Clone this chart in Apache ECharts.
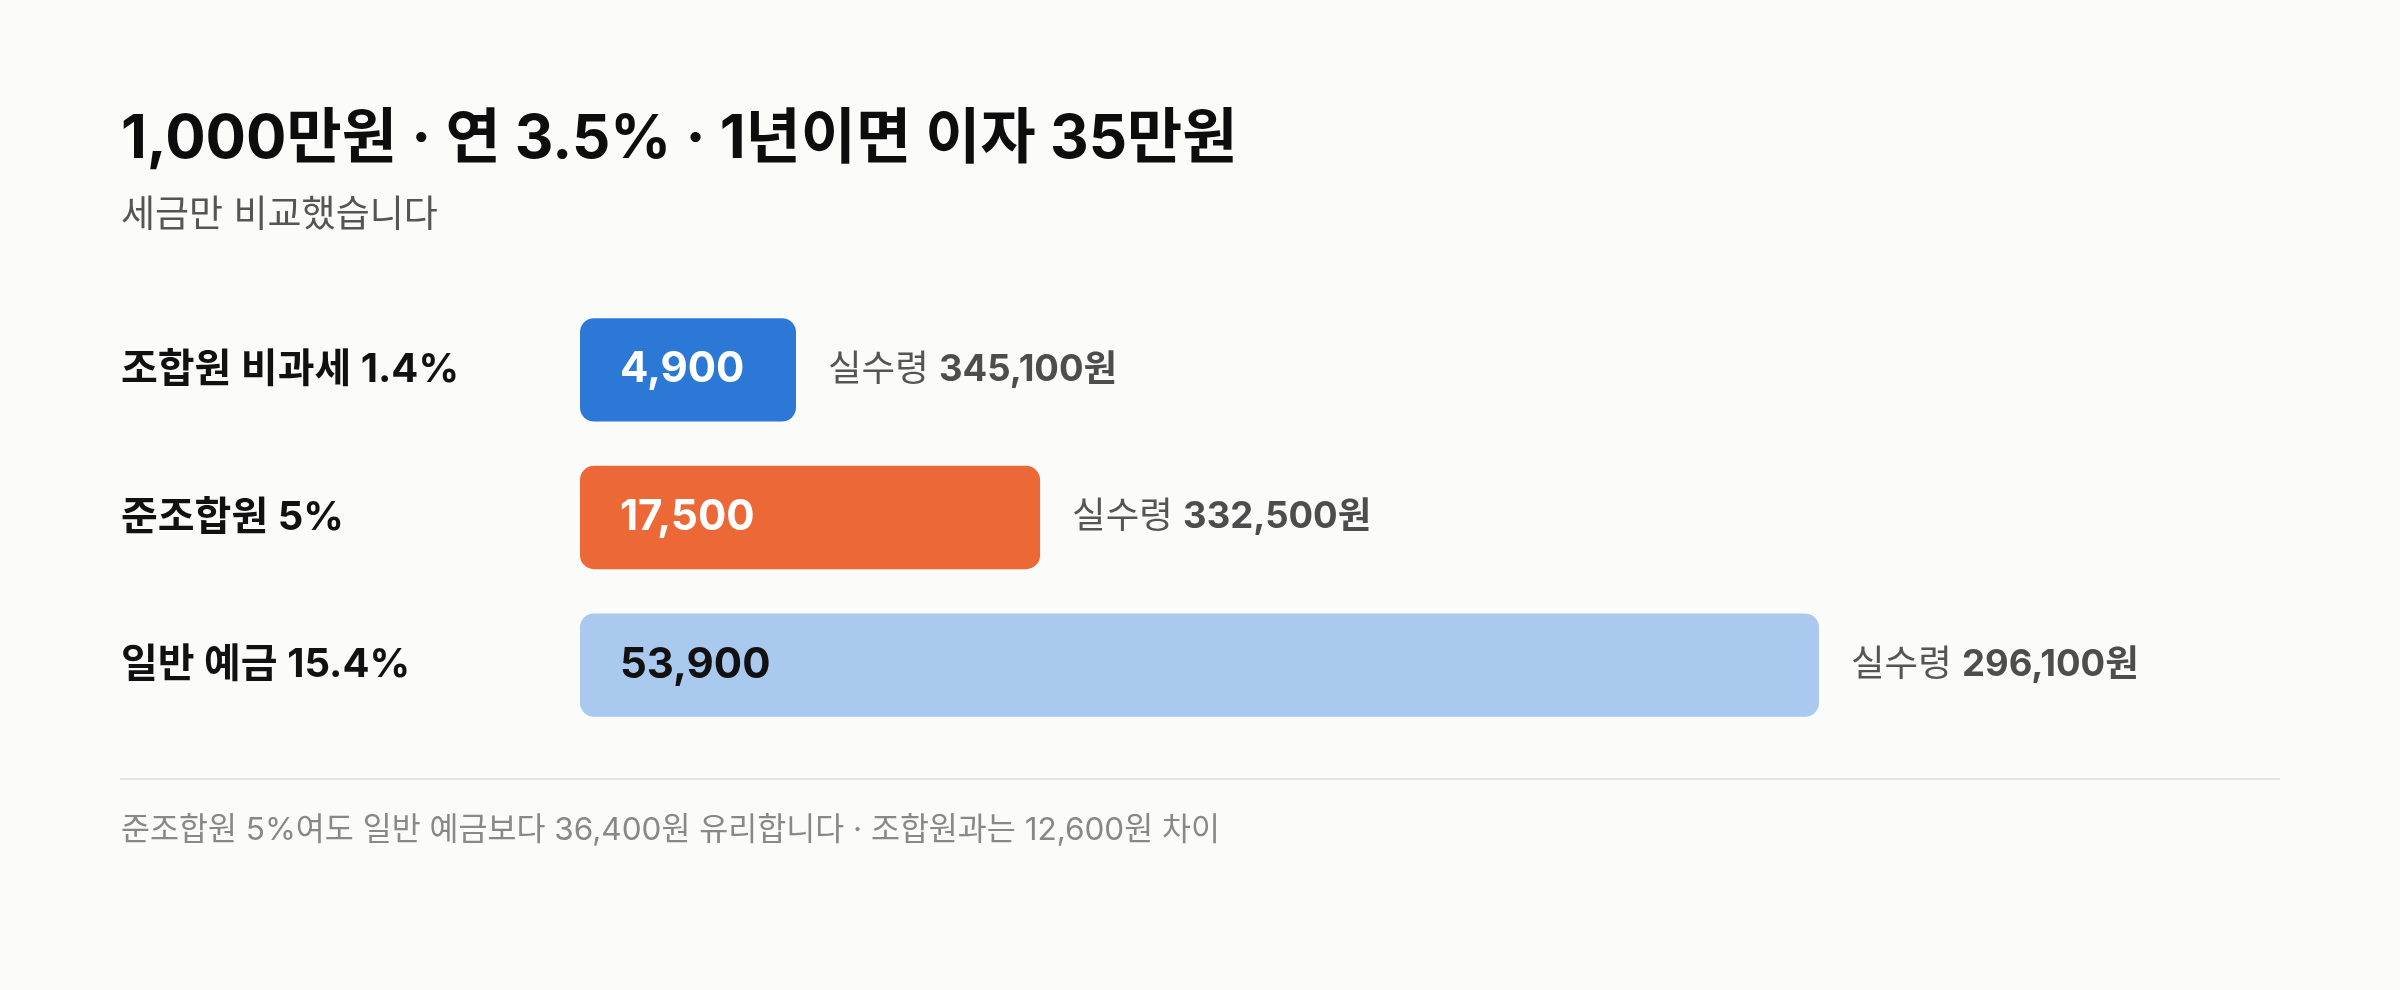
<!DOCTYPE html>
<html>
<head>
<meta charset="utf-8">
<script src="https://cdn.jsdelivr.net/npm/echarts@6/dist/echarts.min.js"></script>
<style>
  html, body { margin: 0; padding: 0; background: #fbfbf9; }
  #chart { width: 2400px; height: 990px; }
</style>
</head>
<body>
<div id="chart"></div>
<script>
// ---- data ----
const titleText = '1,000만원 · 연 3.5% · 1년이면 이자 35만원';
const subtitleText = '세금만 비교했습니다';
const categories = ['조합원 비과세 1.4%', '준조합원 5%', '일반 예금 15.4%'];
const taxValues = [4900, 17500, 53900];
const netValues = [345100, 332500, 296100];
const axisRange = [-4000, 53900];

// ---- style ----
const FONT = 'Inter, "Noto Sans CJK KR", sans-serif';
const barColors = ['#2B78D6', '#EC6836', '#A9C9EE'];
const innerLabelColors = ['#ffffff', '#ffffff', '#111111'];
const MIN_BAR_PX = 216;

const fmt = v => v.toLocaleString('en-US');
const footerText = '준조합원 5%여도 일반 예금보다 ' + fmt(taxValues[2] - taxValues[1]) +
  '원 유리합니다 · 조합원과는 ' + fmt(taxValues[1] - taxValues[0]) + '원 차이';

const chart = echarts.init(document.getElementById('chart'));

chart.setOption({
  backgroundColor: '#fbfbf9',
  animation: false,
  grid: { left: 580, width: 1239, top: 296, height: 443 },
  xAxis: { type: 'value', min: axisRange[0], max: axisRange[1], show: false },
  yAxis: {
    type: 'category',
    data: categories,
    inverse: true,
    axisLine: { show: false },
    axisTick: { show: false },
    splitLine: { show: false },
    axisLabel: {
      align: 'left',
      margin: 459,
      fontFamily: FONT,
      fontSize: 40,
      fontWeight: 'bold',
      color: '#111111'
    }
  },
  graphic: [
    {
      type: 'text', left: 121, top: 110,
      style: { text: titleText, font: 'bold 60px ' + FONT, fill: '#0d0d0d' }
    },
    {
      type: 'text', left: 121, top: 197,
      style: { text: subtitleText, font: '37px ' + FONT, fill: '#555555' }
    },
    {
      type: 'line',
      shape: { x1: 120, y1: 779, x2: 2280, y2: 779 },
      style: { stroke: '#e4e4e2', lineWidth: 2 }
    },
    {
      type: 'text', left: 121, top: 815,
      style: { text: footerText, font: '31.5px ' + FONT, fill: '#888888' }
    }
  ],
  series: [{
    type: 'custom',
    data: taxValues.map((v, i) => [v, i]),
    encode: { x: 0, y: 1 },
    renderItem: function (params, api) {
      const i = params.dataIndex;
      const v = api.value(0);
      const c = api.value(1);
      const start = api.coord([axisRange[0], c]);
      const end = api.coord([v, c]);
      const bandH = api.size([0, 1])[1];
      const h = bandH * 0.70;
      const w = Math.max(end[0] - start[0], MIN_BAR_PX);
      const x = start[0];
      const cy = start[1];
      return {
        type: 'group',
        children: [
          {
            type: 'rect',
            shape: { x: x, y: cy - h / 2, width: w, height: h, r: 14 },
            style: { fill: barColors[i] }
          },
          {
            type: 'text',
            style: {
              x: x + 40, y: cy, text: fmt(v),
              font: 'bold 42px ' + FONT, fill: innerLabelColors[i],
              align: 'left', verticalAlign: 'middle'
            }
          },
          {
            type: 'text',
            style: {
              x: x + w + 32, y: cy,
              text: '{a|실수령 }{b|' + fmt(netValues[i]) + '원}',
              align: 'left', verticalAlign: 'middle',
              rich: {
                a: { fontSize: 36.5, fontFamily: FONT, fill: '#555555' },
                b: { fontSize: 36.5, fontFamily: FONT, fontWeight: 'bold', fill: '#4d4d4d' }
              }
            }
          }
        ]
      };
    }
  }]
});
</script>
</body>
</html>
